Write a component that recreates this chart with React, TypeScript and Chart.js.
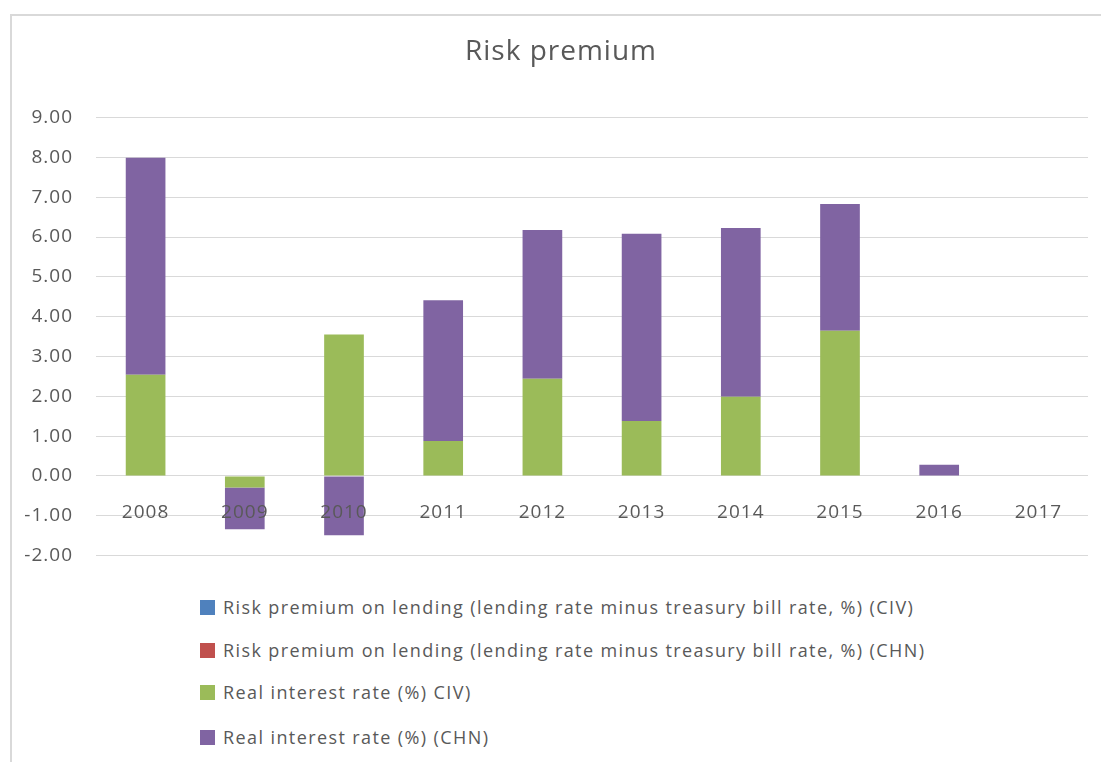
import React, { useEffect, useRef } from "react";
import { Chart, registerables } from "chart.js";

Chart.register(...registerables);

const categories = ["2008", "2009", "2010", "2011", "2012", "2013", "2014", "2015", "2016", "2017"];
const riskPremiumCIV: (number | null)[] = [null, null, null, null, null, null, null, null, null, null];
const riskPremiumCHN: (number | null)[] = [null, null, null, null, null, null, null, null, null, null];
const realRateCIV: (number | null)[] = [2.54, -0.29, 3.55, 0.88, 2.44, 1.38, 1.99, 3.65, null, null];
const realRateCHN: (number | null)[] = [5.45, -1.05, -1.49, 3.53, 3.74, 4.70, 4.24, 3.18, 0.28, null];

const seriesLabels = [
  "Risk premium on lending (lending rate minus treasury bill rate, %) (CIV)",
  "Risk premium on lending (lending rate minus treasury bill rate, %) (CHN)",
  "Real interest rate (%) CIV)",
  "Real interest rate (%) (CHN)",
];
const seriesColors = ["#4f81bd", "#c0504d", "#9bbb59", "#8064a2"];
const legendRowsY = [607, 650, 692, 737];

const FONT = "'Open Sans', 'DejaVu Sans', sans-serif";
const TEXT = "#595959";

const spacingPlugin = {
  id: "spacing",
  afterLayout(chart: any) {
    if (chart.titleBlock) {
      chart.titleBlock.left += 12;
      chart.titleBlock.right += 12;
    }
  },
  beforeDraw(chart: any) {
    chart.ctx.letterSpacing = "1px";
  },
  afterDraw(chart: any) {
    chart.ctx.letterSpacing = "0px";
  },
};

export default function App() {
  const ref = useRef<HTMLCanvasElement | null>(null);

  useEffect(() => {
    if (!ref.current) return;
    const seriesData = [riskPremiumCIV, riskPremiumCHN, realRateCIV, realRateCHN];
    const chart = new Chart(ref.current, {
      type: "bar",
      data: {
        labels: categories,
        datasets: seriesData.map((d, i) => ({
          label: seriesLabels[i],
          data: d,
          backgroundColor: seriesColors[i],
          borderWidth: 0,
          categoryPercentage: 0.4,
          barPercentage: 1,
        })),
      },
      plugins: [spacingPlugin],
      options: {
        animation: false,
        responsive: false,
        maintainAspectRatio: false,
        layout: { padding: { left: 10, right: 13, top: 0, bottom: 24 } },
        plugins: {
          legend: { display: false },
          tooltip: { enabled: false },
          title: {
            display: true,
            text: "Risk premium",
            color: TEXT,
            font: { family: FONT, size: 28, weight: "normal" },
            padding: { top: 35, bottom: 49 },
          },
        },
        scales: {
          x: {
            stacked: true,
            position: { y: 0 } as any,
            grid: { display: false, drawTicks: false },
            border: { display: false },
            ticks: {
              z: 1,
              color: TEXT,
              font: { family: FONT, size: 19 },
              padding: 25,
              maxRotation: 0,
            },
          },
          y: {
            stacked: true,
            min: -2,
            max: 9,
            afterFit: (scale: any) => {
              scale.width = 86;
            },
            grid: { color: "#d9d9d9", lineWidth: 1, drawTicks: false },
            border: { display: false },
            ticks: {
              stepSize: 1,
              color: TEXT,
              font: { family: FONT, size: 19 },
              padding: 23,
              callback: (v: any) => Number(v).toFixed(2),
            },
          },
        },
      },
    });
    return () => chart.destroy();
  }, []);

  return (
    <div style={{ position: "absolute", left: 0, top: 0, width: 1101, height: 762, background: "#fff", overflow: "hidden" }}>
      <div
        style={{
          position: "absolute",
          left: 10,
          top: 14,
          width: 1200,
          height: 900,
          borderLeft: "2px solid #d9d9d9",
          borderTop: "2px solid #d9d9d9",
        }}
      />
      <canvas ref={ref} width={1101} height={590} style={{ position: "absolute", left: 0, top: 0, width: 1101, height: 590 }} />
      {seriesLabels.map((lab, i) => (
        <div
          key={lab}
          style={{
            position: "absolute",
            left: 200,
            top: legendRowsY[i] - 15,
            height: 30,
            display: "flex",
            alignItems: "center",
            whiteSpace: "nowrap",
            fontFamily: FONT,
            fontSize: 18,
            letterSpacing: "1.4px",
            color: TEXT,
          }}
        >
          <span style={{ display: "inline-block", width: 15, height: 15, background: seriesColors[i], marginRight: 8 }} />
          <span>{lab}</span>
        </div>
      ))}
    </div>
  );
}
